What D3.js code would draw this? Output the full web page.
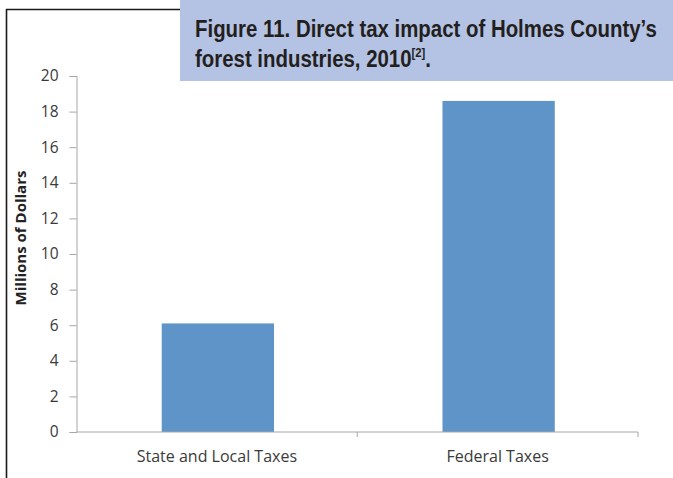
<!DOCTYPE html>
<html>
<head>
<meta charset="utf-8">
<script src="https://cdn.jsdelivr.net/npm/d3@7"></script>
<style>
  html, body { margin: 0; padding: 0; background: #ffffff; }
  svg { display: block; }
</style>
</head>
<body>
<div id="chart"></div>
<script>
// Direct tax impact, millions of dollars
const categories = ["State and Local Taxes", "Federal Taxes"];
const values = [6.1, 18.6];
const yTicks = [0, 2, 4, 6, 8, 10, 12, 14, 16, 18, 20];
const titleLines = ["Figure 11. Direct tax impact of Holmes County\u2019s", "forest industries, 2010"];
const titleNote = "[2]";
const yLabel = "Millions of Dollars";

const W = 673, H = 478;
const plot = { left: 76.5, right: 638, top: 76, bottom: 432 };

const svg = d3.select("#chart").append("svg")
  .attr("width", W).attr("height", H);

// page frame lines
svg.append("line").attr("x1", 6.5).attr("x2", 6.5).attr("y1", 9).attr("y2", H)
  .attr("stroke", "#1a1a1a").attr("stroke-width", 1.6);
svg.append("line").attr("x1", 6).attr("x2", 190).attr("y1", 9.5).attr("y2", 9.5)
  .attr("stroke", "#1a1a1a").attr("stroke-width", 1.6);

const x = d3.scaleBand().domain(categories).range([plot.left, plot.right]).padding(0);
const y = d3.scaleLinear().domain([0, 20]).range([plot.bottom, plot.top]);

const barW = x.bandwidth() * 0.4;

svg.append("g").selectAll("rect").data(categories).join("rect")
  .attr("x", (d) => x(d) + x.bandwidth() / 2 - barW / 2 + 1)
  .attr("y", (d, i) => y(values[i]))
  .attr("width", barW)
  .attr("height", (d, i) => y(0) - y(values[i]))
  .attr("fill", "#5f94c9");

// y axis
const yAxis = svg.append("g").attr("transform", `translate(${plot.left},0)`)
  .call(d3.axisLeft(y).tickValues(yTicks).tickSize(7).tickPadding(11).tickFormat(d3.format("d")));
yAxis.select(".domain").attr("stroke", "#a6a6a6");
yAxis.selectAll(".tick line").attr("stroke", "#a6a6a6");
yAxis.selectAll(".tick text")
  .attr("fill", "#3a3a3a").style("font-family", "'Open Sans', sans-serif").style("font-size", "15.5px");

// x axis with ticks between categories
const xAxis = svg.append("g").attr("transform", `translate(0,${plot.bottom})`);
xAxis.append("line").attr("x1", plot.left).attr("x2", plot.right)
  .attr("stroke", "#a6a6a6");
const edges = categories.map((c) => x(c)).concat([plot.right]);
xAxis.selectAll("line.tk").data(edges.slice(1)).join("line").attr("class", "tk")
  .attr("x1", (d) => d).attr("x2", (d) => d).attr("y1", 0).attr("y2", 5)
  .attr("stroke", "#a6a6a6");
xAxis.selectAll("text").data(categories).join("text")
  .attr("x", (d) => x(d) + x.bandwidth() / 2)
  .attr("y", 30)
  .attr("text-anchor", "middle")
  .attr("fill", "#3a3a3a")
  .style("font-family", "'Open Sans', sans-serif").style("font-size", "16px")
  .text((d) => d);

// y axis title
svg.append("text")
  .attr("transform", "translate(26,238) rotate(-90)")
  .attr("text-anchor", "middle")
  .attr("fill", "#222")
  .style("font-family", "'Open Sans', sans-serif").style("font-weight", "bold").style("font-size", "15px")
  .text(yLabel);

// title box
svg.append("rect").attr("x", 180).attr("y", 0).attr("width", W - 180).attr("height", 81)
  .attr("fill", "#b4c2e3");
const titleG = svg.append("g");
const title = titleG.append("text")
  .attr("fill", "#231f20")
  .style("font-family", "'Liberation Sans', Arial, sans-serif")
  .style("font-weight", "bold").style("font-size", "23.5px");
const l1 = title.append("tspan").attr("x", 0).attr("y", 37).text(titleLines[0]);
title.append("tspan").attr("x", 0).attr("y", 67).text(titleLines[1]);
title.append("tspan").attr("dy", -10).style("font-size", "13px").text(titleNote);
title.append("tspan").attr("dy", 10).text(".");
// condense the heading horizontally so the first line spans 195..657
const sx = 462 / l1.node().getComputedTextLength();
titleG.attr("transform", `translate(195,0) scale(${sx},1)`);
</script>
</body>
</html>
